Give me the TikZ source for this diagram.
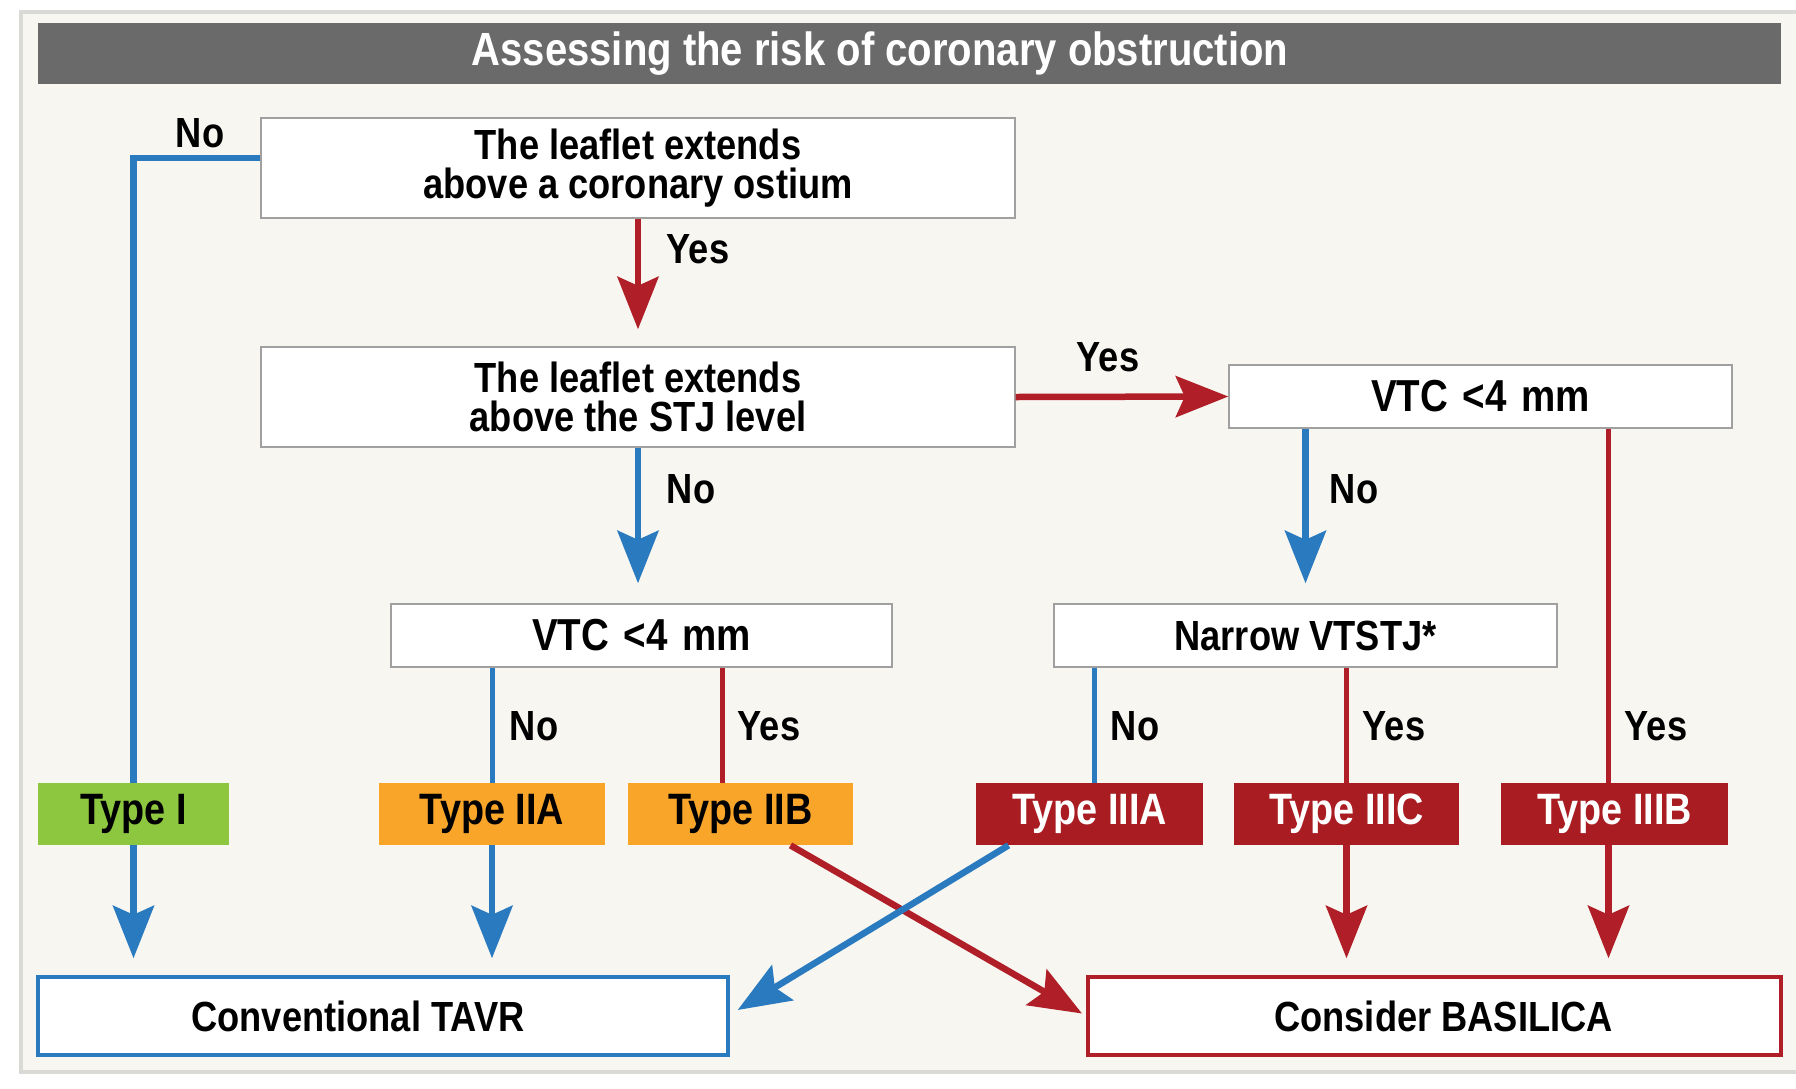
\documentclass[tikz,border=0pt]{standalone}
\usepackage{fontspec}
\setmainfont{Liberation Sans}[FakeStretch=0.86]
\usetikzlibrary{arrows.meta,calc}
\definecolor{cblue}{HTML}{2A7AC0}
\definecolor{cred}{HTML}{B01E27}
\definecolor{cgreen}{HTML}{8DC63F}
\definecolor{corange}{HTML}{F8A52A}
\definecolor{cdark}{HTML}{A81C22}
\definecolor{ctitle}{HTML}{6A6A6A}
\definecolor{cbg}{HTML}{F7F6F1}
\definecolor{cframe}{HTML}{D9D9D6}
\definecolor{cbox}{HTML}{A0A0A0}
\newcommand{\vtc}{{\fontsize{25.5}{25}\selectfont VTC\hspace{0.08cm} <4\hspace{0.08cm} mm}}
\begin{document}
\begin{tikzpicture}[x=0.02cm,y=-0.02cm,
 txt/.style={font=\bfseries\fontsize{24}{22.5}\selectfont, text=black},
 qbox/.style={txt, draw=cbox, line width=0.03cm, fill=white, align=center, inner sep=0pt},
 typebox/.style={font=\bfseries\fontsize{25}{25}\selectfont, text=black, inner sep=0pt, minimum height=1.24cm},
 endbox/.style={txt, fill=white, line width=0.07cm, inner sep=0pt, minimum height=1.56cm},
 lbl/.style={txt},
 bline/.style={draw=cblue, line width=0.13cm},
 rline/.style={draw=cred, line width=0.13cm},
 bthin/.style={draw=cblue, line width=0.1cm},
 rthin/.style={draw=cred, line width=0.1cm},
 tip/.style={-{Stealth[length=1.05cm,width=0.82cm,inset=0.18cm]}},
]
\useasboundingbox (0,0) rectangle (1796,1089);
\fill[white] (0,0) rectangle (1796,1089);
\draw[cframe, fill=cbg, line width=0.08cm] (21,12) rectangle (1830,1072);
\node[fill=ctitle, minimum width=34.86cm, minimum height=1.22cm, inner sep=0pt] (bar) at (909.5,53.5) {};
\node[font=\bfseries\fontsize{26.5}{28}\selectfont, text=white] (title) at (880,53.5) {Assessing the risk of coronary obstruction};

% question boxes
\node[qbox, minimum width=15.08cm, minimum height=2cm] (A) at (638,168) {The leaflet extends\\above a coronary ostium};
\node[qbox, minimum width=15.08cm, minimum height=2cm] (B) at (638,397) {The leaflet extends\\above the STJ level};
\node[qbox, minimum width=10.06cm, minimum height=1.26cm] (C) at (1480.5,396.5) {\vtc};
\node[qbox, minimum width=10.02cm, minimum height=1.26cm] (D) at (641.5,635.5) {\vtc};
\node[qbox, minimum width=10.06cm, minimum height=1.26cm] (E) at (1305.5,635.5) {Narrow VTSTJ*};

% type boxes
\node[typebox, fill=cgreen, minimum width=3.82cm] (T1) at (133.5,814) {Type I};
\node[typebox, fill=corange, minimum width=4.52cm] (T2A) at (492,814) {Type IIA};
\node[typebox, fill=corange, minimum width=4.5cm] (T2B) at (740.5,814) {Type IIB};
\node[typebox, fill=cdark, text=white, minimum width=4.54cm] (T3A) at (1089.5,814) {Type IIIA};
\node[typebox, fill=cdark, text=white, minimum width=4.5cm] (T3C) at (1346.5,814) {Type IIIC};
\node[typebox, fill=cdark, text=white, minimum width=4.54cm] (T3B) at (1614.5,814) {Type IIIB};

% end boxes
\node[endbox, draw=cblue, minimum width=13.8cm] (TAVR) at (383,1016) {Conventional TAVR\rule{1.0cm}{0pt}};
\node[endbox, draw=cred, minimum width=13.86cm] (BAS) at (1434.5,1016) {\hspace{0.36cm}Consider BASILICA};

% connectors
\draw[bline] ($(A.west)+(0,-10)$) -| (T1.north);
\draw[bline, tip, shorten >=0.34cm] (T1.south) -- (T1.south |- TAVR.north);
\draw[rline, tip, shorten >=0.34cm] (A.south) -- (B.north);
\draw[rline, tip] (B.east) -- (C.west);
\draw[bline, tip, shorten >=0.4cm] (B.south) -- (B.south |- D.north);
\draw[bline, tip, shorten >=0.4cm] (E.north |- C.south) -- (E.north);
\coordinate (k3b) at ($(T3B.north)+(-6,0)$);
\draw[rthin] (k3b |- C.south) -- (k3b);
\draw[bthin] (T2A.north |- D.south) -- (T2A.north);
\coordinate (k2b) at ($(D.south)+(80.5,0)$);
\draw[rthin] (k2b) -- (k2b |- T2B.north);
\coordinate (k3a) at ($(T3A.north)+(4.5,0)$);
\draw[bthin] (k3a |- E.south) -- (k3a);
\draw[rthin] (T3C.north |- E.south) -- (T3C.north);
\draw[bline, tip, shorten >=0.34cm] (T2A.south) -- (T2A.south |- TAVR.north);
\draw[rline, tip, shorten >=0.34cm] (T3C.south) -- (T3C.south |- BAS.north);
\draw[rline, tip, shorten >=0.34cm] (k3b |- T3B.south) -- (k3b |- BAS.north);
\coordinate (s2b) at ($(T2B.south)+(50,0)$);
\draw[rline, tip, shorten >=0.1cm] (s2b) -- (BAS.west);
\coordinate (s3a) at ($(T3A.south)+(-81,0)$);
\coordinate (e3a) at ($(TAVR.east)+(8,-6)$);
\draw[bline, tip] (s3a) -- (e3a);

% labels
\node[lbl] (l1) at (200,133) {No};
\node[lbl] (l2) at (698,249) {Yes};
\node[lbl] (l3) at (1108,357) {Yes};
\node[lbl] (l4) at (691,489) {No};
\node[lbl] (l5) at (1354,489) {No};
\node[lbl] (l6) at (534,726) {No};
\node[lbl] (l7) at (769,726) {Yes};
\node[lbl] (l8) at (1135,726) {No};
\node[lbl] (l9) at (1394,726) {Yes};
\node[lbl] (l10) at (1656,726) {Yes};
\end{tikzpicture}
\end{document}
